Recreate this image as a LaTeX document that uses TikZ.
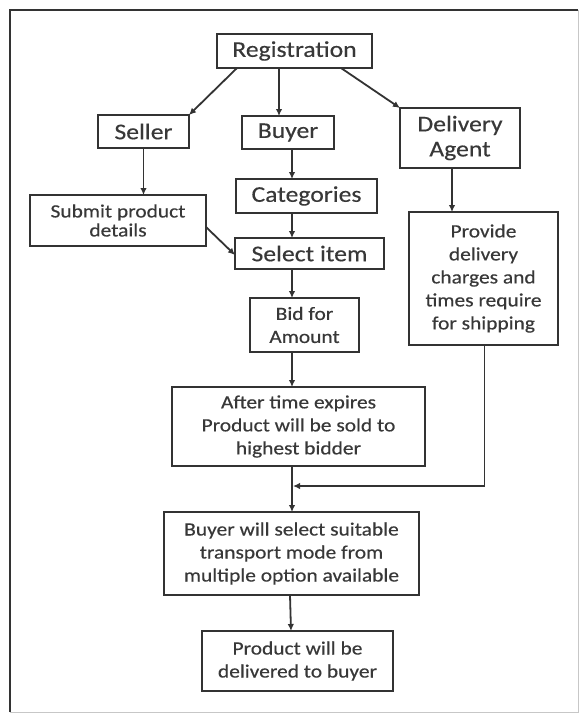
\documentclass[tikz,border=0pt]{standalone}
\usepackage{fontspec}
\setmainfont{Carlito}[FakeStretch=1.14,FakeBold=0.35]
\usetikzlibrary{arrows.meta,calc}
\definecolor{ink}{HTML}{333333}
\definecolor{txt}{HTML}{383838}
\begin{document}
\begin{tikzpicture}[x=1pt,y=-1pt,
  box/.style={draw=ink,line width=1.8pt,text=txt,align=center,inner sep=0pt,outer sep=0pt,anchor=center},
  big/.style={box,font=\fontsize{22.5}{25}\selectfont},
  small/.style={box,font=\fontsize{18.8}{23}\selectfont},
  arr/.style={draw=ink,line width=1.8pt,-{Latex[length=7pt,width=6.5pt]}},
  conn/.style={draw=ink,line width=1.8pt}]
\useasboundingbox (0,0) rectangle (583,713);
\fill[white] (0,0) rectangle (583,713);
% frame
\draw[ink,line width=2pt] (10,712) -- (10,10) -- (578,10);
\draw[black!22,line width=1pt] (578,10) -- (578,712) -- (10,712);
% nodes
\node[big,minimum width=155pt,minimum height=34pt] (reg) at (294.5,51) {Registration};
\node[big,minimum width=91pt,minimum height=33pt] (seller) at (143.5,131.5) {Seller};
\node[big,minimum width=92pt,minimum height=33pt] (buyer) at (288,132.5) {Buyer};
\node[big,minimum width=120pt,minimum height=60pt] (agent) at (460,138) {Delivery\\Agent};
\node[big,minimum width=141pt,minimum height=34pt] (cat) at (306.5,196) {Categories};
\node[small,minimum width=176pt,minimum height=51pt,font=\fontsize{18.8}{19}\selectfont] (submit) at (118,220.5) {Submit product\\details};
\node[small,minimum width=149pt,minimum height=133pt] (prov) at (483.5,278.5) {Provide\\delivery\\charges and\\times require\\for shipping};
\node[big,minimum width=149pt,minimum height=31pt] (sel) at (309.5,253.5) {Select item};
\node[small,minimum width=109pt,minimum height=54pt] (bid) at (304.5,325) {Bid for\\Amount};
\node[small,minimum width=253pt,minimum height=79pt] (after) at (298.5,426.5) {After time expires\\Product will be sold to\\highest bidder};
\node[small,minimum width=255pt,minimum height=83pt] (mode) at (291.5,553.5) {Buyer will select suitable\\transport mode from\\multiple option available};
\node[small,minimum width=191pt,minimum height=60pt] (prod) at (297.5,661) {Product will be\\delivered to buyer};
\coordinate (merge) at (292,486);
\coordinate (agx) at (452,0);
\coordinate (provx) at (484.5,0);
% connectors
\draw[arr] ([xshift=20pt]reg.south west) -- (seller.north east);
\draw[arr] ([xshift=-15.5pt]reg.south) -- ([xshift=-15.5pt]reg.south |- buyer.north);
\draw[arr] ([xshift=-31pt]reg.south east) -- (agent.north west);
\draw[arr] (seller.south) -- (seller.south |- submit.north);
\draw[arr] ([yshift=-6.5pt]submit.east) -- ([yshift=-1.5pt]sel.west);
\draw[arr] ([xshift=4pt]buyer.south) -- ([xshift=4pt]buyer.south |- cat.north);
\draw[arr] (merge |- cat.south) -- (merge |- sel.north);
\draw[arr] (merge |- sel.south) -- (merge |- bid.north);
\draw[arr] (merge |- bid.south) -- (merge |- after.north);
\draw[arr] (merge |- after.south) -- (merge |- mode.north);
\draw[arr] (agx |- agent.south) -- (agx |- prov.north);
\draw[conn] (provx |- prov.south) -- (provx |- merge) -- ([xshift=10pt]merge);
\draw[arr] ([xshift=11pt]merge) -- ([xshift=1pt]merge);
\draw[arr] ([xshift=-1.5pt]mode.south) -- ([xshift=-0.5pt]mode.south |- prod.north);
\end{tikzpicture}
\end{document}
